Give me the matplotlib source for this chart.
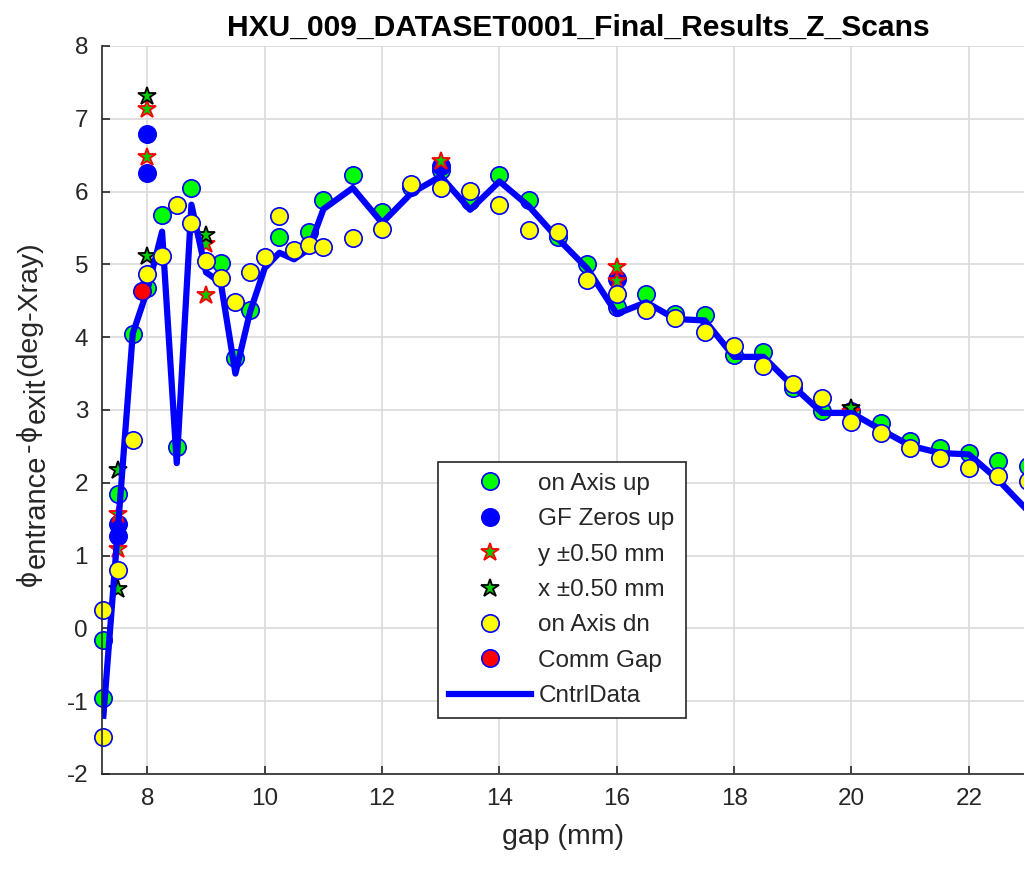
import matplotlib
matplotlib.use("Agg")
import matplotlib.pyplot as plt
from matplotlib.transforms import IdentityTransform

plt.rcParams['font.family'] = ['Liberation Sans', 'DejaVu Sans']
plt.rcParams['axes.unicode_minus'] = False

# on Axis up (green)
up_gap = [7.25, 7.25, 7.5, 7.75, 8.0, 8.25, 8.5, 8.75, 9.25, 9.5, 9.75, 10.25, 10.75, 11.0,
          11.5, 12.0, 12.5, 13.0, 13.5, 14.0, 14.5, 15.0, 15.5, 16.0, 16.5, 17.0, 17.5, 18.0,
          18.5, 19.0, 19.5, 20.0, 20.5, 21.0, 21.5, 22.0, 22.5, 23.0]
up_val = [-0.95, -0.16, 1.84, 4.04, 4.68, 5.68, 2.49, 6.05, 5.02, 3.72, 4.38, 5.37, 5.44, 5.88,
          6.23, 5.72, 6.06, 6.30, 5.87, 6.23, 5.88, 5.38, 5.00, 4.41, 4.59, 4.32, 4.30, 3.75,
          3.80, 3.30, 2.98, 2.98, 2.82, 2.57, 2.48, 2.41, 2.30, 2.23]

# GF Zeros up (blue)
gf_gap = [7.5, 7.5, 8.0, 8.0, 13.0, 16.0]
gf_val = [1.43, 1.27, 6.79, 6.26, 6.35, 4.80]

# y +-0.50 mm
ys_gap = [7.5, 7.5, 8.0, 8.0, 9.0, 9.0, 13.0, 16.0, 16.0, 20.0]
ys_val = [1.57, 1.09, 7.13, 6.47, 5.28, 4.58, 6.42, 4.97, 4.77, 2.97]

# x +-0.50 mm
xs_gap = [7.5, 7.5, 8.0, 8.0, 9.0, 20.0]
xs_val = [2.18, 0.54, 7.32, 5.12, 5.41, 3.03]

# on Axis dn (yellow)
dn_gap = [7.25, 7.25, 7.5, 7.75, 8.0, 8.25, 8.5, 8.75, 9.0, 9.25, 9.5, 9.75, 10.0, 10.25,
          10.5, 10.75, 11.0, 11.5, 12.0, 12.5, 13.0, 13.5, 14.0, 14.5, 15.0, 15.5, 16.0, 16.5,
          17.0, 17.5, 18.0, 18.5, 19.0, 19.5, 20.0, 20.5, 21.0, 21.5, 22.0, 22.5, 23.0]
dn_val = [0.25, -1.49, 0.80, 2.59, 4.87, 5.12, 5.82, 5.57, 5.05, 4.82, 4.48, 4.89, 5.10, 5.67,
          5.20, 5.26, 5.24, 5.36, 5.49, 6.10, 6.05, 6.01, 5.82, 5.47, 5.45, 4.78, 4.59, 4.38,
          4.27, 4.07, 3.88, 3.60, 3.36, 3.16, 2.84, 2.68, 2.48, 2.34, 2.20, 2.09, 2.02]

# Comm Gap (red)
comm_gap = [7.9]
comm_val = [4.63]

# CntrlData line
ctrl_gap = [7.25, 7.5, 7.75, 8.0, 8.25, 8.5, 8.75, 9.0, 9.25, 9.5, 9.75, 10.0, 10.25, 10.5,
            10.75, 11.0, 11.5, 12.0, 12.5, 13.0, 13.5, 14.0, 14.5, 15.0, 15.5, 16.0, 16.5, 17.0,
            17.5, 18.0, 18.5, 19.0, 19.5, 20.0, 20.5, 21.0, 21.5, 22.0, 22.5, 23.0]
ctrl_val = [-1.2, 1.4, 4.05, 4.65, 5.45, 2.27, 5.82, 4.89, 4.75, 3.50, 4.35, 4.95, 5.16, 5.07,
            5.21, 5.76, 6.05, 5.57, 5.98, 6.21, 5.75, 6.14, 5.80, 5.35, 4.94, 4.32, 4.48, 4.25,
            4.23, 3.73, 3.73, 3.33, 2.96, 2.96, 2.73, 2.51, 2.41, 2.39, 2.04, 1.62]

# y label pieces: (text, is_subscript)
ylabel_parts = [('\u03d5', False), ('entrance', True), ('-', False), ('\u03d5', False),
                ('exit', True), ('(deg-Xray)', False)]

axcol = '#262626'
fig = plt.figure(figsize=(10.24, 8.69), dpi=100)
ax = fig.add_axes([102 / 1024, 1 - 774 / 869, 922 / 1024, 728 / 869])

ms = 12.5
mk = dict(ls='none', clip_on=False)
h_up, = ax.plot(up_gap, up_val, 'o', ms=ms, mfc='#00ff00', mec='#0000ff', mew=1.2, **mk)
h_gf, = ax.plot(gf_gap, gf_val, 'o', ms=ms, mfc='#0000ff', mec='#0000ff', mew=1.2, **mk)
h_ys, = ax.plot(ys_gap, ys_val, '*', ms=13.5, mfc='#00cc00', mec='#ff0000', mew=1.3, **mk)
h_xs, = ax.plot(xs_gap, xs_val, '*', ms=13.5, mfc='#00cc00', mec='#000000', mew=1.3, **mk)
h_ctrl, = ax.plot(ctrl_gap, ctrl_val, '-', color='#0000ff', lw=4.5)
h_dn, = ax.plot(dn_gap, dn_val, 'o', ms=ms, mfc='#ffff00', mec='#0000ff', mew=1.2, **mk)
h_comm, = ax.plot(comm_gap, comm_val, 'o', ms=ms, mfc='#ff0000', mec='#0000ff', mew=1.2, **mk)

ax.set_xlim(7.226, 22.94)
ax.set_ylim(-2, 8)
ax.set_xticks([8, 10, 12, 14, 16, 18, 20, 22])
ax.set_yticks(range(-2, 9))
ax.grid(True, color='#dadada', lw=1.2)
ax.set_axisbelow(True)
for s in ['top', 'right']:
    ax.spines[s].set_visible(False)
for s in ['left', 'bottom']:
    ax.spines[s].set_color(axcol)
    ax.spines[s].set_linewidth(1.2)
ax.tick_params(direction='in', length=6, width=1.2, colors=axcol, labelsize=17.5, pad=10)

ax.set_title('HXU_009_DATASET0001_Final_Results_Z_Scans', fontsize=21.6, fontweight='bold',
             color='#000000', pad=7, x=0.517)
ax.set_xlabel('gap (mm)', fontsize=20.5, color=axcol, labelpad=10)

# y label built from pieces so the subscripts keep their MATLAB-like size
fig.canvas.draw()
renderer = fig.canvas.get_renderer()
ypos = 869 - 586
for txt, sub in ylabel_parts:
    t = fig.text(36 + (9 if sub else 0), ypos, txt, transform=IdentityTransform(),
                 rotation=90, rotation_mode='anchor', ha='left', va='baseline',
                 fontsize=21 if sub else 20.5, color=axcol)
    ypos += t.get_window_extent(renderer).height + 2

handles = [h_up, h_gf, h_ys, h_xs, h_dn, h_comm, h_ctrl]
labels = ['on Axis up', 'GF Zeros up', 'y \u00b10.50 mm', 'x \u00b10.50 mm', 'on Axis dn',
          'Comm Gap', 'CntrlData']
leg = ax.legend(handles, labels, loc='upper left', bbox_to_anchor=(0.364, 0.4286),
                borderaxespad=0, fontsize=17.5, fancybox=False, framealpha=1,
                edgecolor=axcol, handlelength=3.4, labelspacing=0.55, handletextpad=0.3,
                borderpad=0.45)
leg.get_frame().set_linewidth(1.2)
for t in leg.get_texts():
    t.set_color(axcol)

fig.savefig('out.png', dpi=100)
